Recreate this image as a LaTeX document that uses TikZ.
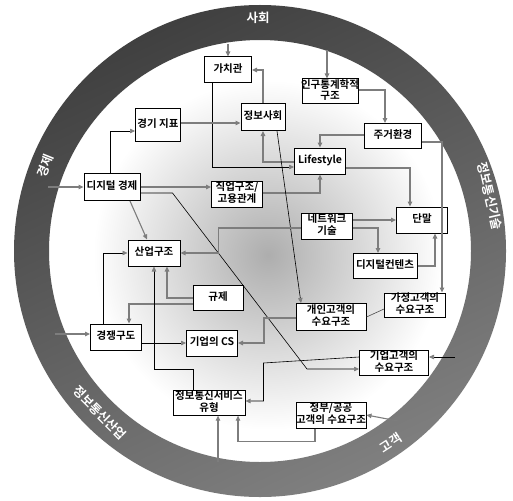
\documentclass[tikz,border=0pt]{standalone}
\usepackage{fontspec}
\setmainfont{Noto Sans CJK KR}[BoldFont={Noto Sans CJK KR Bold}]
\usetikzlibrary{arrows.meta,positioning}
\definecolor{linegray}{RGB}{125,125,125}
\newcommand{\boxtext}[1]{\makebox[0pt]{\begin{tabular}{@{}c@{}}#1\end{tabular}}}

\tikzset{
  factor/.style={draw, line width=1pt, fill=white, inner sep=0pt,
    font=\bfseries\fontsize{10.5}{11}\selectfont},
  flow/.style={draw=linegray, line width=1.1pt,
    -{Triangle[length=5pt,width=4.5pt,color=linegray]}},
  thinflow/.style={draw=black, line width=0.6pt,
    -{Triangle[length=5pt,width=4.5pt,color=linegray]}},
  plainline/.style={draw=black!70, line width=0.6pt},
  ringlabel/.style={text=white, font=\bfseries\fontsize{12.5}{13}\selectfont}
}

\begin{document}
\begin{tikzpicture}[x=1pt,y=-1pt]
    \useasboundingbox[fill=white] (0,0) rectangle (513,500);
    % ring and inner shading
    \shade[inner color=black!32, outer color=white] (268,255) circle (175);
    \shade[even odd rule, top color=black!75, bottom color=black!50, shading angle=25]
        (260,251) circle (246) (260,251) circle (211);
    \node[ringlabel] (soc) at (258,18) {사회};
    \node[ringlabel, rotate=68] (eco) at (45,166) {경제};
    \node[ringlabel, rotate=-77] (ict) at (490,196) {정보통신기술};
    \node[ringlabel, rotate=-45] (ind0) at (100,413) {정보통신산업};
    \node[ringlabel, rotate=33] (cust) at (391,443) {고객};

    % factors
    \node[factor, minimum width=47pt, minimum height=26pt] (vals) at (228,70) {\boxtext{가치관}};
    \node[factor, minimum width=56pt, minimum height=24pt] (demo) at (330,91) {\boxtext{인구통계학적\\구조}};
    \node[factor, minimum width=44pt, minimum height=27pt] (infosoc) at (263,117) {\boxtext{정보사회}};
    \node[factor, minimum width=45pt, minimum height=33pt] (econind) at (158,125) {\boxtext{경기 지표}};
    \node[factor, minimum width=57pt, minimum height=25pt] (housing) at (393,136) {\boxtext{주거환경}};
    \node[factor, minimum width=51pt, minimum height=26pt] (life) at (320,161) {\boxtext{Lifestyle}};
    \node[factor, minimum width=56pt, minimum height=27pt] (digecon) at (112,187) {\boxtext{디지털 경제}};
    \node[factor, minimum width=51pt, minimum height=26pt] (job) at (237,194) {\boxtext{직업구조/\\고용관계}};
    \node[factor, minimum width=51pt, minimum height=26pt] (net) at (327,226) {\boxtext{네트워크\\기술}};
    \node[factor, minimum width=51pt, minimum height=26pt] (term) at (422,220) {\boxtext{단말}};
    \node[factor, minimum width=52pt, minimum height=26pt] (ind) at (154,253) {\boxtext{산업구조}};
    \node[factor, minimum width=64pt, minimum height=25pt] (cont) at (385,266) {\boxtext{디지털컨텐츠}};
    \node[factor, minimum width=50pt, minimum height=25pt] (reg) at (218,298) {\boxtext{규제}};
    \node[factor, minimum width=61pt, minimum height=24pt] (home) at (415,305) {\boxtext{가정고객의\\수요구조}};
    \node[factor, minimum width=70pt, minimum height=27pt] (pers) at (331,317) {\boxtext{개인고객의\\수요구조}};
    \node[factor, minimum width=51pt, minimum height=26pt] (comp) at (116,337) {\boxtext{경쟁구도}};
    \node[factor, minimum width=51pt, minimum height=26pt] (csr) at (212,343) {\boxtext{기업의 CS}};
    \node[factor, minimum width=69pt, minimum height=25pt] (bizc) at (394,363) {\boxtext{기업고객의\\수요구조}};
    \node[factor, minimum width=72pt, minimum height=24pt] (svc) at (209,403) {\boxtext{정보통신서비스\\유형}};
    \node[factor, minimum width=70pt, minimum height=26pt] (gov) at (331,415) {\boxtext{정부/공공\\고객의 수요구조}};

    % entry points on the ring
    \coordinate (intop1) at (228,44);
    \coordinate (intop2) at (327,50);
    \coordinate (inleft1) at (48,187);
    \coordinate (inleft2) at (55,334);
    \coordinate (inright) at (455,357);
    \coordinate (inbot) at (218,462);
    \coordinate (inbr) at (398,421);

    % connectors
    \draw[flow] (intop1) -- (vals.north);
    \draw[flow] (intop2) -- ([xshift=-3pt]demo.north);
    \draw[flow] (infosoc.north) |- (vals.east);
    \draw[thinflow] ([xshift=-16pt]vals.south) |- ([yshift=-6pt]life.west);
    \draw[flow] ([yshift=-1pt]life.west) -| (infosoc.south);
    \draw[flow] ([yshift=2pt]econind.east) -- ([yshift=2pt]econind.east -| infosoc.west);
    \draw[thinflow] ([xshift=-2pt]digecon.north) |- ([yshift=-6pt]econind.west);
    \draw[flow] (inleft1) -- (digecon.west);
    \draw[flow] (digecon.east) -- (digecon.east -| job.west);
    \draw[flow] ([yshift=1pt]job.east) -| (life.south);
    \draw[flow] ([yshift=1pt]housing.west) -| (life.north);
    \draw[flow] ([yshift=1pt]demo.east) -| ([xshift=-8pt]housing.north);
    \draw[flow] ([yshift=-6pt]housing.east) -| ([xshift=27pt]home.north);
    \draw[flow] ([yshift=-7pt]life.east) -| ([xshift=-12pt]term.north);
    \draw[thinflow] ([xshift=14pt]infosoc.south) -- ([xshift=-30pt]pers.north);
    \draw[thinflow] ([yshift=-6pt]digecon.east) -- ++(32,0)
        -- ([xshift=-52pt,yshift=-6pt]bizc.west) -- ([yshift=-6pt]bizc.west);
    \draw[flow] ([xshift=18pt]digecon.south) -- ([xshift=-7pt]ind.north);
    \draw[flow] ([yshift=6pt]net.east) -- (term.west);
    \draw[flow] ([yshift=-2pt]net.east) -| ([xshift=-7pt]cont.north);
    \draw[flow] ([yshift=-2pt]net.west) -| ([xshift=38pt]ind.east) -- (ind.east);
    \draw[flow] (cont.east) -| ([xshift=13pt]term.south);
    \draw[flow] (reg.west) -| ([xshift=13pt]ind.south);
    \draw[flow] ([yshift=-6pt]reg.west) -| ([xshift=13pt]comp.north);
    \draw[thinflow] ([xshift=-13pt]comp.north) |- (ind.west);
    \draw[flow] (inleft2) -- ([yshift=3pt]comp.west);
    \draw[thinflow] ([yshift=-6pt]comp.east) -- (csr.west);
    \draw[flow] ([yshift=-1pt]pers.west) -| ([xshift=26pt]csr.east) -- (csr.east);
    \draw[plainline] ([yshift=-4pt]home.west) -- (pers.east);
    \draw[thinflow] ([yshift=6pt]bizc.west) -- ([xshift=18pt,yshift=40pt]svc.east)
        -- ([xshift=18pt,yshift=2pt]svc.east) -- ([yshift=2pt]svc.east);
    \draw[thinflow] (inright) -- ([yshift=6pt]bizc.east);
    \draw[flow] ([xshift=-16pt]gov.south) -- ++(0,13) -| ([xshift=29pt]svc.south);
    \draw[flow] (inbot) -- ([xshift=9pt]svc.south);
    \draw[flow] (inbr) -- (gov.east);
    \draw[thinflow] ([xshift=-16pt]svc.north) -- ++(0,-21) -| (ind.south);
\end{tikzpicture}
\end{document}
